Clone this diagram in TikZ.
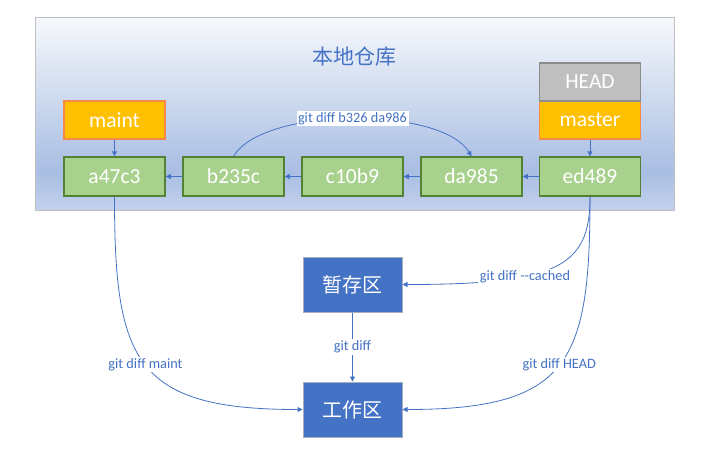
\documentclass[tikz,border=0pt]{standalone}
\usepackage{fontspec}
\setmainfont{Carlito}
\newfontfamily\cjk{Noto Sans CJK SC}
\usetikzlibrary{arrows.meta, positioning}
\definecolor{cblue}{HTML}{4472C4}
\definecolor{cgreen}{HTML}{A9D18E}
\definecolor{cdkgreen}{HTML}{548235}
\definecolor{corange}{HTML}{FFC000}
\definecolor{cedge}{HTML}{F4894A}
\definecolor{cgrey}{HTML}{BFBFBF}
\definecolor{cdkgrey}{HTML}{8C8C8C}
\definecolor{careaedge}{HTML}{A5AEBF}
\definecolor{repotop}{HTML}{F6F8FC}
\definecolor{repomid}{HTML}{A9BEE3}
\definecolor{repobot}{HTML}{C3D1EC}
\pgfdeclareverticalshading{repofade}{100bp}{color(0bp)=(repobot); color(25bp)=(repobot); color(35bp)=(repomid); color(75bp)=(repotop); color(100bp)=(repotop)}
\tikzset{
  every picture/.style={line width=0.8pt},
  commit/.style={draw=cdkgreen, fill=cgreen, line width=1.5pt, text=white, minimum width=101pt, minimum height=39pt, inner sep=0pt, font=\fontsize{21.5}{25}\selectfont},
  branch/.style={commit, draw=cedge, fill=corange, minimum height=38pt},
  headbox/.style={commit, draw=cdkgrey, fill=cgrey, minimum height=38pt},
  area/.style={draw=careaedge, fill=cblue, line width=1pt, text=white, minimum width=99pt, minimum height=55pt, inner sep=0pt, font=\cjk\fontsize{20}{24}\selectfont},
  arrow/.style={-{Triangle[length=5pt, width=5pt]}, draw=cblue},
  difflabel/.style={fill=white, text=cblue, inner sep=1.5pt, font=\fontsize{14.3}{16}\selectfont},
}

\begin{document}
\begin{tikzpicture}[x=1pt, y=-1pt]
  \useasboundingbox (0,0) rectangle (703,475);
  \shadedraw[shading=repofade, draw=cgrey, line width=1pt] (35,17) rectangle (674,210);
  \node[font=\cjk\fontsize{21}{25}\selectfont, text=cblue] (title) at (354.5,57) {本地仓库};
  \node[commit] (a47c3) at (114.5,176.5) {a47c3};
  \node[commit] (b235c) at (233.5,176.5) {b235c};
  \node[commit] (c10b9) at (352.5,176.5) {c10b9};
  \node[commit] (da985) at (471.5,176.5) {da985};
  \node[commit] (ed489) at (590,176.5) {ed489};
  \node[branch] (maint) at (114.5,120) {maint};
  \node[branch] (master) at (590,120) {master};
  \node[headbox] (head) at (590,82) {HEAD};
  \node[area] (stage) at (352.5,284.5) {暂存区};
  \node[area] (work) at (352.5,409.5) {工作区};
  \draw[arrow] (maint) -- (a47c3); \draw[arrow] (master) -- (ed489);
  \draw[arrow] (b235c) -- (a47c3); \draw[arrow] (c10b9) -- (b235c);
  \draw[arrow] (da985) -- (c10b9); \draw[arrow] (ed489) -- (da985);
  \draw[arrow] (b235c.north) .. controls +(30,-50) and +(-30,-50) .. (da985.north) node[difflabel, pos=0.5] {git diff b326 da986};
  \draw[arrow] (ed489.south) .. controls +(0,69) and +(157,0) .. (stage.east) node[difflabel, pos=0.65] {git diff -{}-cached};
  \draw[arrow] (ed489.south) .. controls +(0,164) and +(168,0) .. (work.east) node[difflabel, pos=0.5] {git diff HEAD};
  \draw[arrow] (a47c3.south) .. controls +(0,164) and +(-168,0) .. (work.west) node[difflabel, pos=0.5] {git diff maint};
  \draw[arrow] (stage) -- node[difflabel] {git diff} (work);
\end{tikzpicture}
\end{document}
